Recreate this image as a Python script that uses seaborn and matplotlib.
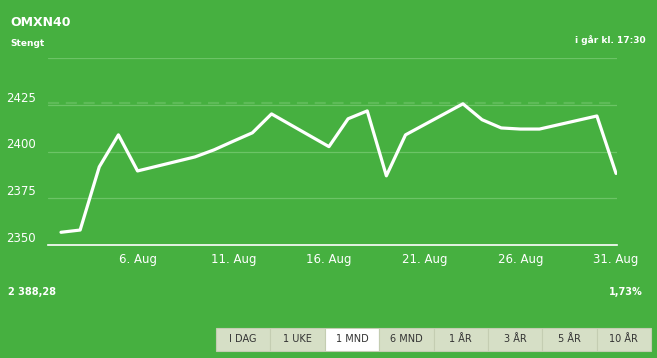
import seaborn as sns
import pandas as pd
import matplotlib.pyplot as plt
import matplotlib.dates as mdates
from matplotlib.patches import Rectangle

# data
dates = ['2021-08-02', '2021-08-03', '2021-08-04', '2021-08-05', '2021-08-06',
         '2021-08-09', '2021-08-10', '2021-08-11', '2021-08-12', '2021-08-13',
         '2021-08-16', '2021-08-17', '2021-08-18', '2021-08-19', '2021-08-20',
         '2021-08-23', '2021-08-24', '2021-08-25', '2021-08-26', '2021-08-27',
         '2021-08-30', '2021-08-31']
values = [2356.8, 2358.0, 2391.8, 2408.9, 2389.6,
          2397.1, 2400.9, 2405.5, 2410.0, 2420.1,
          2402.6, 2417.5, 2421.7, 2387.0, 2408.9,
          2425.5, 2417.0, 2412.6, 2412.0, 2412.0,
          2419.0, 2388.28]
y_ticks = [2350, 2375, 2400, 2425]
tick_days = [6, 11, 16, 21, 26, 31]
buttons = ['I DAG', '1 UKE', '1 MND', '6 MND', '1 ÅR', '3 ÅR', '5 ÅR', '10 ÅR']
selected = '1 MND'

df = pd.DataFrame({'date': pd.to_datetime(dates), 'value': values})

GREEN = '#46b040'
GRID = '#6cc466'
W, H = 657, 358

sns.set_style('white')
plt.rcParams['font.family'] = ['DejaVu Sans']

fig = plt.figure(figsize=(W / 100, H / 100), dpi=100, facecolor=GREEN)
ax = fig.add_axes([48 / W, 1 - 245 / H, (617 - 48) / W, (245 - 58) / H])
ax.set_facecolor(GREEN)

sns.lineplot(data=df, x='date', y='value', ax=ax, color='white', linewidth=2.3)

ax.set_ylim(2350, 2450)
ax.set_xlim(pd.Timestamp('2021-08-02') - pd.Timedelta(hours=16.3),
            pd.Timestamp('2021-08-31') + pd.Timedelta(hours=1.2))

# grid lines
for v in [2375, 2400, 2425, 2450]:
    ax.axhline(v, color=GRID, linewidth=0.9, zorder=0)
ax.axhline(2425.7, color='#5ebb58', linewidth=1.6, linestyle=(0, (5, 3)), zorder=0)

for s in ['top', 'right', 'left']:
    ax.spines[s].set_visible(False)
ax.spines['bottom'].set_color('white')
ax.spines['bottom'].set_linewidth(1.2)

ax.set_yticks(y_ticks)
ax.set_yticklabels([str(v) for v in y_ticks])
ax.tick_params(axis='y', length=0, pad=30.5, labelcolor='white', labelsize=8.5)
for lab in ax.get_yticklabels():
    lab.set_horizontalalignment('left')
    lab.set_verticalalignment('bottom')

ax.xaxis.set_major_locator(mdates.DayLocator(bymonthday=tick_days))
ax.xaxis.set_major_formatter(mdates.DateFormatter('%-d. %b'))
ax.tick_params(axis='x', length=0, pad=6, labelcolor='white', labelsize=8.5)
ax.set_xlabel('')
ax.set_ylabel('')

# header / footer texts
fig.text(10 / W, 1 - 22 / H, 'OMXN40', color='white', fontsize=9, fontweight='bold', va='center')
fig.text(10 / W, 1 - 43 / H, 'Stengt', color='white', fontsize=6.5, fontweight='bold', va='center')
fig.text(646 / W, 1 - 40 / H, 'i går kl. 17:30', color='white', fontsize=6.5, fontweight='bold',
         va='center', ha='right')
fig.text(8 / W, 1 - 292 / H, '2 388,28', color='white', fontsize=7, fontweight='bold', va='center')
fig.text(643 / W, 1 - 292 / H, '1,73%', color='white', fontsize=7, fontweight='bold',
         va='center', ha='right')

# period buttons
x0, x1 = 216, 651
bw = (x1 - x0) / len(buttons)
top, bottom = 328, 351
for i, b in enumerate(buttons):
    bx = x0 + i * bw
    fc = 'white' if b == selected else '#d6dfc6'
    fig.patches.append(Rectangle((bx / W, 1 - bottom / H), bw / W, (bottom - top) / H,
                                 transform=fig.transFigure, facecolor=fc,
                                 edgecolor='#c4cdb2', linewidth=0.8))
    fig.text((bx + bw / 2) / W, 1 - (top + bottom) / 2 / H, b, color='#333333',
             fontsize=7, ha='center', va='center')

fig.savefig('out.png', dpi=100, facecolor=GREEN)
